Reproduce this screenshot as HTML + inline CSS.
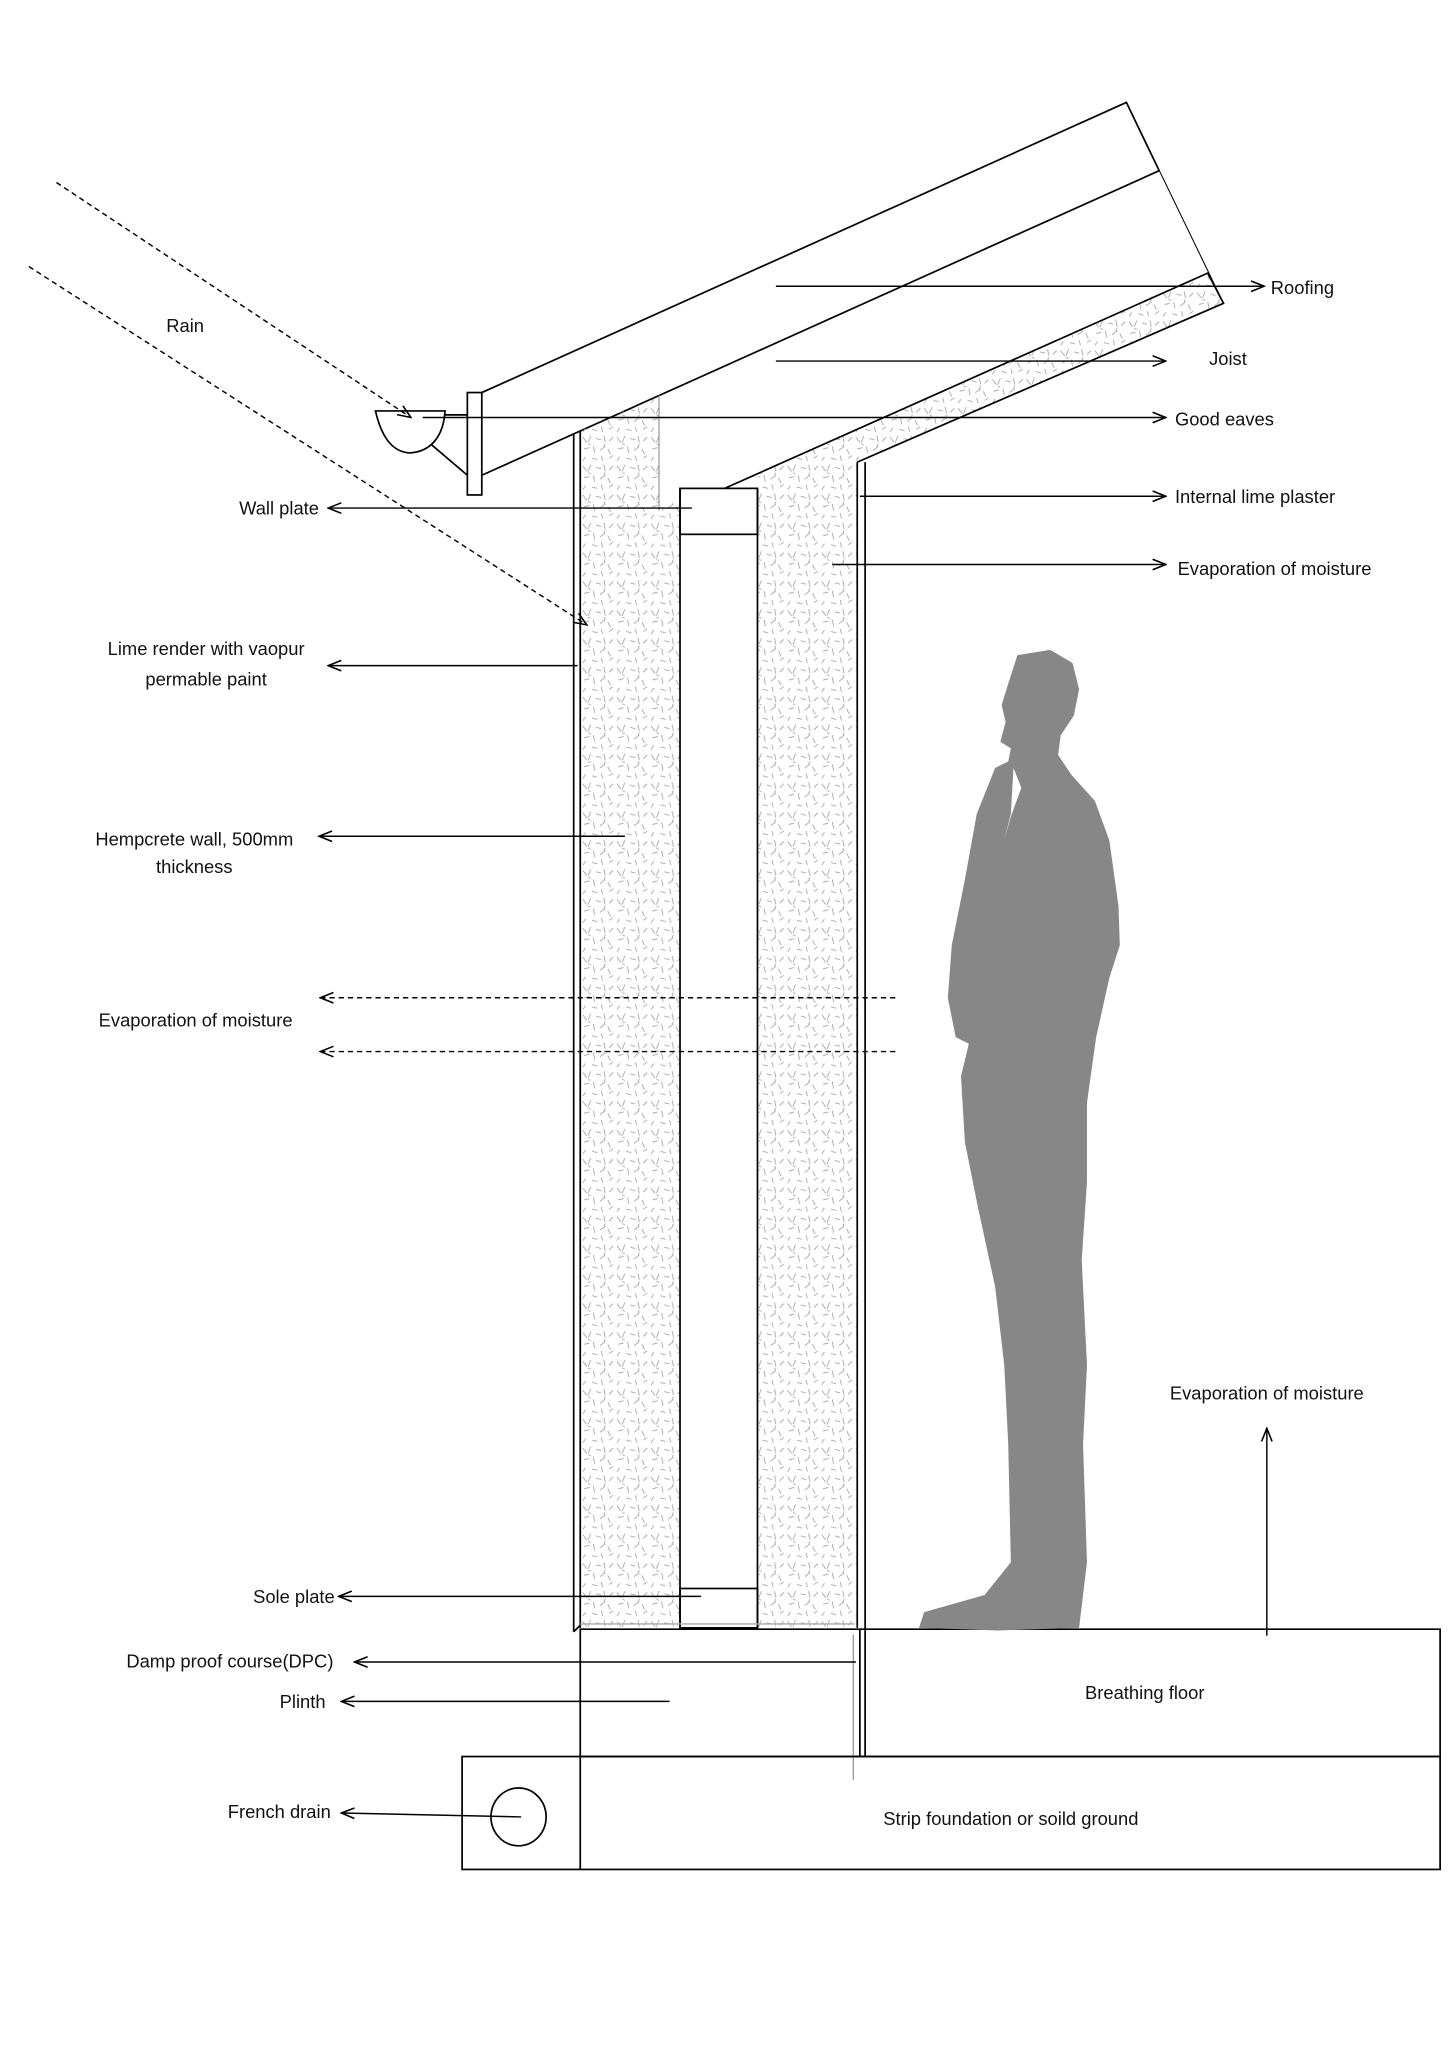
<!DOCTYPE html>
<html><head><meta charset="utf-8"><style>
html,body{margin:0;padding:0;background:#fff}
svg{display:block}
text{font-family:"Liberation Sans",sans-serif;font-size:14px;fill:#111}
</style></head><body>
<svg width="1448" height="2048" viewBox="0 0 1103 1560" xmlns="http://www.w3.org/2000/svg">
<defs>
<pattern id="h" width="26" height="22" patternUnits="userSpaceOnUse">
<g stroke="#999" stroke-width="0.6" fill="none">
<path d="M2 3l3 4M8 2l-2 5M12 4l4 1M18 2l1 5M22 6l3-3M3 12l4-1M10 10l1 5M15 13l4-3M21 12l2 4M4 18l-2 3M9 19l4 1M16 17l1 4M22 19l3-2M6 8l2 1M19 8l-1 2"/>
</g></pattern>
<marker id="a" markerWidth="12" markerHeight="10" refX="11" refY="5" orient="auto" markerUnits="userSpaceOnUse">
<path d="M1 1L11 5L1 9" fill="none" stroke="#000" stroke-width="1.2"/></marker>
</defs>
<g fill="none" stroke="#000" stroke-width="1.3">
<!-- roof -->
<path d="M367 299L858 78L883 130M367 362L883 130"/>
<path d="M858 78L932 231" stroke-width="0.8"/>
<rect x="356" y="299" width="11" height="78"/>
<!-- gutter -->
<path d="M286 313H339C338 330 330 344 312 345C297 344 290 330 286 313Z"/>
<path d="M329 339L356 362M339 316H356"/>
<!-- sloped hemp ceiling + right hemp -->
<path d="M577 361L920 208L932 231L653 352V1240H577Z" fill="url(#h)" stroke="none"/>
<path d="M552 372L920 208L932 231L653 352"/>
<!-- left hemp -->
<path d="M442 328L502 301V389L518 380V1240H442Z" fill="url(#h)" stroke="none"/>
<path d="M502 301V389"  stroke="#888" stroke-width="0.8"/>
<path d="M437 331V1243M442 328V1240M437 1243L442 1238"/>
<!-- stud -->
<path d="M518 372V1240M577 372V1240"/>
<rect x="518" y="372" width="59" height="35"/>
<rect x="518" y="1210" width="59" height="30"/>
<path d="M653 352V1240M659 352V1338"/>
<path d="M442 1237H651" stroke="#aaa" stroke-width="1"/>
<!-- base -->
<path d="M442 1241H1097V1338H442ZM655 1241V1338"/>
<path d="M650 1245V1356" stroke="#999" stroke-width="1"/>
<rect x="352" y="1338" width="745" height="86"/>
<path d="M442 1338V1424"/>
<ellipse cx="395" cy="1384" rx="21" ry="22"/>
</g>
<!-- person -->
<path fill="#878787" d="M775 499L800 495L817 505L822 525L818 545L808 560L806 575L816 590L834 610L845 640L852 690L853 720L845 745L835 790L828 840L828 900L824 960L828 1040L825 1100L828 1190L822 1240L760 1242L700 1240L704 1228L750 1215L770 1190L768 1100L765 1040L758 980L745 920L735 870L732 820L738 795L728 790L722 760L725 720L735 670L744 620L752 600L758 585L768 580L770 570L762 565L766 550L763 537L767 524Z"/>
<path fill="#fff" d="M772 585L778 600L770 622L765 640L770 620Z"/>
<!-- arrows -->
<g stroke="#000" stroke-width="1.1" fill="none" marker-end="url(#a)">
<path d="M591 218H963"/><path d="M591 275H888"/><path d="M322 318H888"/>
<path d="M655 378H888"/><path d="M634 430H888"/>
<path d="M527 387H250"/><path d="M440 507H250"/><path d="M476 637H243"/>
<path d="M682 760H244" stroke-dasharray="4 3"/><path d="M682 801H244" stroke-dasharray="4 3"/>
<path d="M534 1216H258"/><path d="M652 1266H270"/><path d="M510 1296H260"/>
<path d="M397 1384L260 1381"/><path d="M965 1246V1088"/>
<path d="M43 139L313 318" stroke-dasharray="4 3"/><path d="M22 203L447 476" stroke-dasharray="4 3"/>
</g>
<text x="968" y="224">Roofing</text>
<text x="921" y="278">Joist</text>
<text x="895" y="324">Good eaves</text>
<text x="895" y="383">Internal lime plaster</text>
<text x="897" y="438">Evaporation of moisture</text>
<text x="243" y="392" text-anchor="end">Wall plate</text>
<text x="157" y="499" text-anchor="middle">Lime render with vaopur</text>
<text x="157" y="522" text-anchor="middle">permable paint</text>
<text x="148" y="644" text-anchor="middle">Hempcrete wall, 500mm</text>
<text x="148" y="665" text-anchor="middle">thickness</text>
<text x="149" y="782" text-anchor="middle">Evaporation of moisture</text>
<text x="255" y="1221" text-anchor="end">Sole plate</text>
<text x="254" y="1270" text-anchor="end">Damp proof course(DPC)</text>
<text x="248" y="1301" text-anchor="end">Plinth</text>
<text x="252" y="1385" text-anchor="end">French drain</text>
<text x="965" y="1066" text-anchor="middle">Evaporation of moisture</text>
<text x="141" y="253" text-anchor="middle">Rain</text>
<text x="872" y="1294" text-anchor="middle">Breathing floor</text>
<text x="770" y="1390" text-anchor="middle">Strip foundation or soild ground</text>
</svg>
</body></html>
